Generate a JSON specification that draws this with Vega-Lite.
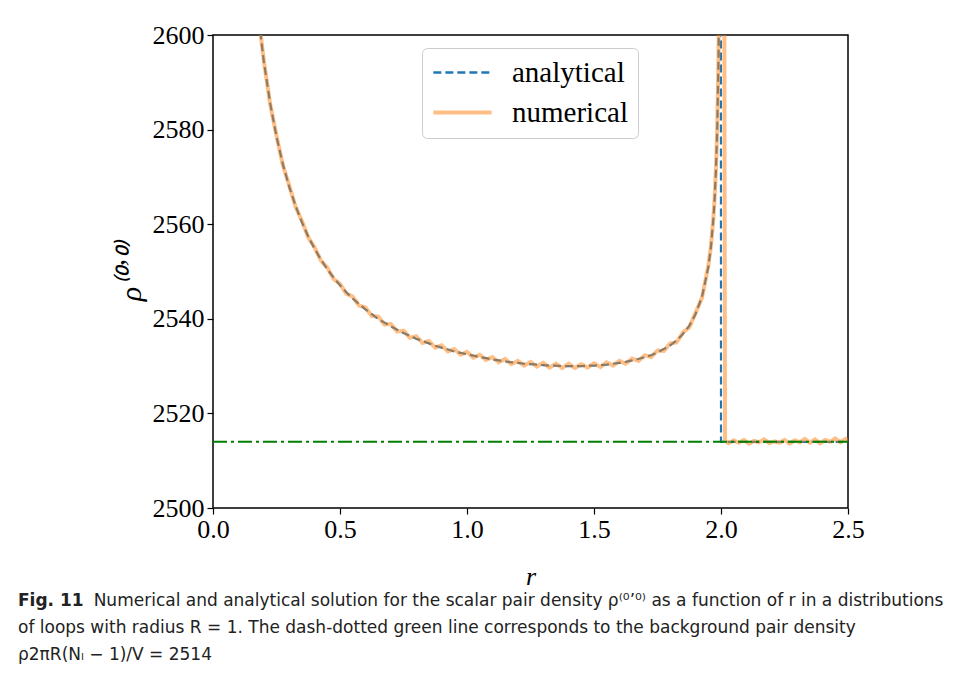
{
  "$schema": "https://vega.github.io/schema/vega-lite/v6.json",
  "width": 635,
  "height": 473,
  "autosize": {"type": "none"},
  "padding": {"left": 213, "top": 35, "right": 106, "bottom": 167},
  "background": "white",
  "config": {
    "view": {"stroke": "black", "strokeWidth": 1.5},
    "font": "Liberation Serif"
  },
  "title": {
    "text": "Fig. 11",
    "subtitle": [
      "\u200b\u00a0\u00a0\u00a0\u00a0\u00a0\u00a0\u00a0\u00a0\u00a0\u00a0\u00a0\u00a0\u00a0\u00a0Numerical and analytical solution for the scalar pair density ρ⁽⁰ʼ⁰⁾ as a function of r in a distributions",
      "of loops with radius R = 1. The dash-dotted green line corresponds to the background pair density",
      "ρ2πR(Nₗ − 1)/V = 2514"
    ],
    "orient": "bottom",
    "anchor": "start",
    "frame": "group",
    "dx": -195,
    "offset": 4,
    "font": "DejaVu Sans",
    "fontSize": 17,
    "fontWeight": "bold",
    "color": "#222222",
    "subtitleFont": "DejaVu Sans",
    "subtitleFontSize": 17,
    "subtitleColor": "#222222",
    "subtitleLineHeight": 27,
    "subtitlePadding": -17
  },
  "datasets": {
    "analytical": [
      {"r": 0.175, "rho": 2605.8, "series": "analytical"},
      {"r": 0.2, "rho": 2594.4, "series": "analytical"},
      {"r": 0.225, "rho": 2585.6, "series": "analytical"},
      {"r": 0.25, "rho": 2578.5, "series": "analytical"},
      {"r": 0.275, "rho": 2572.7, "series": "analytical"},
      {"r": 0.3, "rho": 2567.9, "series": "analytical"},
      {"r": 0.325, "rho": 2563.9, "series": "analytical"},
      {"r": 0.35, "rho": 2560.4, "series": "analytical"},
      {"r": 0.375, "rho": 2557.4, "series": "analytical"},
      {"r": 0.4, "rho": 2554.8, "series": "analytical"},
      {"r": 0.425, "rho": 2552.5, "series": "analytical"},
      {"r": 0.45, "rho": 2550.5, "series": "analytical"},
      {"r": 0.475, "rho": 2548.7, "series": "analytical"},
      {"r": 0.5, "rho": 2547.1, "series": "analytical"},
      {"r": 0.525, "rho": 2545.6, "series": "analytical"},
      {"r": 0.55, "rho": 2544.3, "series": "analytical"},
      {"r": 0.575, "rho": 2543.1, "series": "analytical"},
      {"r": 0.6, "rho": 2542.0, "series": "analytical"},
      {"r": 0.625, "rho": 2541.0, "series": "analytical"},
      {"r": 0.65, "rho": 2540.0, "series": "analytical"},
      {"r": 0.675, "rho": 2539.2, "series": "analytical"},
      {"r": 0.7, "rho": 2538.4, "series": "analytical"},
      {"r": 0.725, "rho": 2537.7, "series": "analytical"},
      {"r": 0.75, "rho": 2537.0, "series": "analytical"},
      {"r": 0.775, "rho": 2536.4, "series": "analytical"},
      {"r": 0.8, "rho": 2535.8, "series": "analytical"},
      {"r": 0.825, "rho": 2535.3, "series": "analytical"},
      {"r": 0.85, "rho": 2534.8, "series": "analytical"},
      {"r": 0.875, "rho": 2534.3, "series": "analytical"},
      {"r": 0.9, "rho": 2533.9, "series": "analytical"},
      {"r": 0.925, "rho": 2533.5, "series": "analytical"},
      {"r": 0.95, "rho": 2533.1, "series": "analytical"},
      {"r": 0.975, "rho": 2532.8, "series": "analytical"},
      {"r": 1.0, "rho": 2532.5, "series": "analytical"},
      {"r": 1.025, "rho": 2532.2, "series": "analytical"},
      {"r": 1.05, "rho": 2531.9, "series": "analytical"},
      {"r": 1.075, "rho": 2531.7, "series": "analytical"},
      {"r": 1.1, "rho": 2531.4, "series": "analytical"},
      {"r": 1.125, "rho": 2531.2, "series": "analytical"},
      {"r": 1.15, "rho": 2531.0, "series": "analytical"},
      {"r": 1.175, "rho": 2530.8, "series": "analytical"},
      {"r": 1.2, "rho": 2530.7, "series": "analytical"},
      {"r": 1.225, "rho": 2530.5, "series": "analytical"},
      {"r": 1.25, "rho": 2530.4, "series": "analytical"},
      {"r": 1.275, "rho": 2530.3, "series": "analytical"},
      {"r": 1.3, "rho": 2530.2, "series": "analytical"},
      {"r": 1.325, "rho": 2530.1, "series": "analytical"},
      {"r": 1.35, "rho": 2530.1, "series": "analytical"},
      {"r": 1.375, "rho": 2530.0, "series": "analytical"},
      {"r": 1.4, "rho": 2530.0, "series": "analytical"},
      {"r": 1.425, "rho": 2530.0, "series": "analytical"},
      {"r": 1.45, "rho": 2530.0, "series": "analytical"},
      {"r": 1.475, "rho": 2530.1, "series": "analytical"},
      {"r": 1.5, "rho": 2530.1, "series": "analytical"},
      {"r": 1.525, "rho": 2530.2, "series": "analytical"},
      {"r": 1.55, "rho": 2530.3, "series": "analytical"},
      {"r": 1.575, "rho": 2530.5, "series": "analytical"},
      {"r": 1.6, "rho": 2530.7, "series": "analytical"},
      {"r": 1.625, "rho": 2530.9, "series": "analytical"},
      {"r": 1.65, "rho": 2531.2, "series": "analytical"},
      {"r": 1.675, "rho": 2531.5, "series": "analytical"},
      {"r": 1.7, "rho": 2531.9, "series": "analytical"},
      {"r": 1.725, "rho": 2532.3, "series": "analytical"},
      {"r": 1.75, "rho": 2532.9, "series": "analytical"},
      {"r": 1.775, "rho": 2533.6, "series": "analytical"},
      {"r": 1.8, "rho": 2534.4, "series": "analytical"},
      {"r": 1.825, "rho": 2535.4, "series": "analytical"},
      {"r": 1.85, "rho": 2536.8, "series": "analytical"},
      {"r": 1.875, "rho": 2538.5, "series": "analytical"},
      {"r": 1.9, "rho": 2541.0, "series": "analytical"},
      {"r": 1.925, "rho": 2544.6, "series": "analytical"},
      {"r": 1.95, "rho": 2550.9, "series": "analytical"},
      {"r": 1.96, "rho": 2555.0, "series": "analytical"},
      {"r": 1.97, "rho": 2561.1, "series": "analytical"},
      {"r": 1.975, "rho": 2565.4, "series": "analytical"},
      {"r": 1.98, "rho": 2571.3, "series": "analytical"},
      {"r": 1.985, "rho": 2579.9, "series": "analytical"},
      {"r": 1.99, "rho": 2594.5, "series": "analytical"},
      {"r": 1.993, "rho": 2610.0, "series": "analytical"},
      {"r": 1.996, "rho": 2640.8, "series": "analytical"},
      {"r": 1.999, "rho": 2767.0, "series": "analytical"},
      {"r": 2.0, "rho": 2514.0, "series": "analytical"},
      {"r": 2.5, "rho": 2514.0, "series": "analytical"}
    ],
    "numerical": [
      {"r": 0.175, "rho": 2606.0, "series": "numerical"},
      {"r": 0.2, "rho": 2594.6, "series": "numerical"},
      {"r": 0.225, "rho": 2585.4, "series": "numerical"},
      {"r": 0.25, "rho": 2578.7, "series": "numerical"},
      {"r": 0.275, "rho": 2572.5, "series": "numerical"},
      {"r": 0.3, "rho": 2568.2, "series": "numerical"},
      {"r": 0.325, "rho": 2563.7, "series": "numerical"},
      {"r": 0.35, "rho": 2560.7, "series": "numerical"},
      {"r": 0.375, "rho": 2557.2, "series": "numerical"},
      {"r": 0.4, "rho": 2555.1, "series": "numerical"},
      {"r": 0.425, "rho": 2552.3, "series": "numerical"},
      {"r": 0.45, "rho": 2550.8, "series": "numerical"},
      {"r": 0.475, "rho": 2548.4, "series": "numerical"},
      {"r": 0.5, "rho": 2547.4, "series": "numerical"},
      {"r": 0.525, "rho": 2545.3, "series": "numerical"},
      {"r": 0.55, "rho": 2544.7, "series": "numerical"},
      {"r": 0.575, "rho": 2542.8, "series": "numerical"},
      {"r": 0.6, "rho": 2542.4, "series": "numerical"},
      {"r": 0.625, "rho": 2540.6, "series": "numerical"},
      {"r": 0.65, "rho": 2540.5, "series": "numerical"},
      {"r": 0.675, "rho": 2538.8, "series": "numerical"},
      {"r": 0.7, "rho": 2538.9, "series": "numerical"},
      {"r": 0.725, "rho": 2537.3, "series": "numerical"},
      {"r": 0.75, "rho": 2537.5, "series": "numerical"},
      {"r": 0.775, "rho": 2536.0, "series": "numerical"},
      {"r": 0.8, "rho": 2536.3, "series": "numerical"},
      {"r": 0.825, "rho": 2534.9, "series": "numerical"},
      {"r": 0.85, "rho": 2535.3, "series": "numerical"},
      {"r": 0.875, "rho": 2533.9, "series": "numerical"},
      {"r": 0.9, "rho": 2534.4, "series": "numerical"},
      {"r": 0.925, "rho": 2533.1, "series": "numerical"},
      {"r": 0.95, "rho": 2533.6, "series": "numerical"},
      {"r": 0.975, "rho": 2532.4, "series": "numerical"},
      {"r": 1.0, "rho": 2533.0, "series": "numerical"},
      {"r": 1.025, "rho": 2531.8, "series": "numerical"},
      {"r": 1.05, "rho": 2532.4, "series": "numerical"},
      {"r": 1.075, "rho": 2531.3, "series": "numerical"},
      {"r": 1.1, "rho": 2531.9, "series": "numerical"},
      {"r": 1.125, "rho": 2530.8, "series": "numerical"},
      {"r": 1.15, "rho": 2531.5, "series": "numerical"},
      {"r": 1.175, "rho": 2530.4, "series": "numerical"},
      {"r": 1.2, "rho": 2531.1, "series": "numerical"},
      {"r": 1.225, "rho": 2530.1, "series": "numerical"},
      {"r": 1.25, "rho": 2530.9, "series": "numerical"},
      {"r": 1.275, "rho": 2529.9, "series": "numerical"},
      {"r": 1.3, "rho": 2530.7, "series": "numerical"},
      {"r": 1.325, "rho": 2529.7, "series": "numerical"},
      {"r": 1.35, "rho": 2530.5, "series": "numerical"},
      {"r": 1.375, "rho": 2529.6, "series": "numerical"},
      {"r": 1.4, "rho": 2530.5, "series": "numerical"},
      {"r": 1.425, "rho": 2529.6, "series": "numerical"},
      {"r": 1.45, "rho": 2530.4, "series": "numerical"},
      {"r": 1.475, "rho": 2529.7, "series": "numerical"},
      {"r": 1.5, "rho": 2530.6, "series": "numerical"},
      {"r": 1.525, "rho": 2529.8, "series": "numerical"},
      {"r": 1.55, "rho": 2530.8, "series": "numerical"},
      {"r": 1.575, "rho": 2530.1, "series": "numerical"},
      {"r": 1.6, "rho": 2531.1, "series": "numerical"},
      {"r": 1.625, "rho": 2530.5, "series": "numerical"},
      {"r": 1.65, "rho": 2531.6, "series": "numerical"},
      {"r": 1.675, "rho": 2531.1, "series": "numerical"},
      {"r": 1.7, "rho": 2532.3, "series": "numerical"},
      {"r": 1.725, "rho": 2531.9, "series": "numerical"},
      {"r": 1.75, "rho": 2533.3, "series": "numerical"},
      {"r": 1.775, "rho": 2533.2, "series": "numerical"},
      {"r": 1.8, "rho": 2534.8, "series": "numerical"},
      {"r": 1.825, "rho": 2535.0, "series": "numerical"},
      {"r": 1.85, "rho": 2537.1, "series": "numerical"},
      {"r": 1.875, "rho": 2538.2, "series": "numerical"},
      {"r": 1.9, "rho": 2541.3, "series": "numerical"},
      {"r": 1.925, "rho": 2544.4, "series": "numerical"},
      {"r": 1.95, "rho": 2551.2, "series": "numerical"},
      {"r": 1.96, "rho": 2555.2, "series": "numerical"},
      {"r": 1.97, "rho": 2561.3, "series": "numerical"},
      {"r": 1.975, "rho": 2565.6, "series": "numerical"},
      {"r": 1.98, "rho": 2571.5, "series": "numerical"},
      {"r": 1.985, "rho": 2580.1, "series": "numerical"},
      {"r": 1.99, "rho": 2594.8, "series": "numerical"},
      {"r": 1.995, "rho": 2628.0, "series": "numerical"},
      {"r": 2.0, "rho": 2680.0, "series": "numerical"},
      {"r": 2.01, "rho": 2700.0, "series": "numerical"},
      {"r": 2.016, "rho": 2514.2, "series": "numerical"},
      {"r": 2.03, "rho": 2513.7, "series": "numerical"},
      {"r": 2.05, "rho": 2514.3, "series": "numerical"},
      {"r": 2.07, "rho": 2513.8, "series": "numerical"},
      {"r": 2.09, "rho": 2514.4, "series": "numerical"},
      {"r": 2.11, "rho": 2513.6, "series": "numerical"},
      {"r": 2.13, "rho": 2514.2, "series": "numerical"},
      {"r": 2.15, "rho": 2513.9, "series": "numerical"},
      {"r": 2.17, "rho": 2514.5, "series": "numerical"},
      {"r": 2.19, "rho": 2513.7, "series": "numerical"},
      {"r": 2.21, "rho": 2514.1, "series": "numerical"},
      {"r": 2.23, "rho": 2513.8, "series": "numerical"},
      {"r": 2.25, "rho": 2514.4, "series": "numerical"},
      {"r": 2.27, "rho": 2513.6, "series": "numerical"},
      {"r": 2.29, "rho": 2514.3, "series": "numerical"},
      {"r": 2.31, "rho": 2513.9, "series": "numerical"},
      {"r": 2.33, "rho": 2514.6, "series": "numerical"},
      {"r": 2.35, "rho": 2513.8, "series": "numerical"},
      {"r": 2.37, "rho": 2514.5, "series": "numerical"},
      {"r": 2.39, "rho": 2513.7, "series": "numerical"},
      {"r": 2.41, "rho": 2514.4, "series": "numerical"},
      {"r": 2.43, "rho": 2514.0, "series": "numerical"},
      {"r": 2.45, "rho": 2514.7, "series": "numerical"},
      {"r": 2.47, "rho": 2513.9, "series": "numerical"},
      {"r": 2.49, "rho": 2514.6, "series": "numerical"},
      {"r": 2.5, "rho": 2514.2, "series": "numerical"}
    ],
    "background": [{"rho": 2514}]
  },
  "encoding": {
    "x": {
      "field": "r",
      "type": "quantitative",
      "scale": {"domain": [0, 2.5], "nice": false, "zero": false},
      "axis": {
        "title": "r",
        "values": [0, 0.5, 1, 1.5, 2, 2.5],
        "format": ".1f",
        "grid": false,
        "domain": false,
        "labelFlush": false,
        "labelOverlap": false,
        "labelFont": "Liberation Serif",
        "labelFontSize": 26,
        "labelColor": "black",
        "labelPadding": 2,
        "tickColor": "black",
        "tickSize": 6,
        "tickWidth": 1.2,
        "titleFont": "Liberation Serif",
        "titleFontStyle": "italic",
        "titleFontWeight": "normal",
        "titleFontSize": 26,
        "titleColor": "black",
        "titlePadding": 21
      }
    },
    "y": {
      "field": "rho",
      "type": "quantitative",
      "scale": {"domain": [2500, 2600], "nice": false, "zero": false},
      "axis": {
        "title": "ρ⁽⁰ʼ⁰⁾",
        "values": [2500, 2520, 2540, 2560, 2580, 2600],
        "format": "d",
        "grid": false,
        "domain": false,
        "labelFlush": false,
        "labelOverlap": false,
        "labelFont": "Liberation Serif",
        "labelFontSize": 26,
        "labelColor": "black",
        "labelPadding": 3,
        "tickColor": "black",
        "tickSize": 6,
        "tickWidth": 1.2,
        "titleFont": "Liberation Serif",
        "titleFontStyle": "italic",
        "titleFontWeight": "normal",
        "titleFontSize": 30,
        "titleColor": "black",
        "titlePadding": 6
      }
    }
  },
  "layer": [
    {
      "data": {"name": "analytical"},
      "mark": {"type": "line", "strokeWidth": 2.2, "clip": true},
      "encoding": {
        "color": {
          "field": "series",
          "type": "nominal",
          "scale": {"domain": ["analytical", "numerical"], "range": ["#1f77b4", "#ff7f0e"]},
          "legend": {
            "title": null,
            "orient": "none",
            "legendX": 209,
            "legendY": 13,
            "symbolType": "stroke",
            "symbolSize": 3400,
            "symbolStrokeWidth": 2.5,
            "symbolOffset": 16,
            "labelFont": "Liberation Serif",
            "labelFontSize": 29,
            "labelColor": "black",
            "labelOffset": 35,
            "padding": 10,
            "rowPadding": 10,
            "strokeColor": "#cccccc",
            "cornerRadius": 5,
            "fillColor": "white",
            "encode": {
              "symbols": {
                "update": {
                  "opacity": {"signal": "datum.value === 'numerical' ? 0.5 : 1"},
                  "strokeWidth": {"signal": "datum.value === 'numerical' ? 4 : 2.5"}
                }
              }
            }
          }
        },
        "strokeDash": {
          "field": "series",
          "type": "nominal",
          "scale": {"domain": ["analytical", "numerical"], "range": [[8, 4], [1, 0]]},
          "legend": null
        }
      }
    },
    {
      "data": {"name": "numerical"},
      "mark": {"type": "line", "strokeWidth": 4, "opacity": 0.5, "clip": true},
      "encoding": {
        "color": {"field": "series", "type": "nominal"},
        "strokeDash": {"field": "series", "type": "nominal", "legend": null}
      }
    },
    {
      "data": {"name": "background"},
      "mark": {"type": "rule", "color": "#008000", "strokeWidth": 2, "strokeDash": [14, 4, 3, 4]},
      "encoding": {
        "x": {"value": 0},
        "x2": {"value": 635},
        "y": {"field": "rho", "type": "quantitative"}
      }
    }
  ]
}
